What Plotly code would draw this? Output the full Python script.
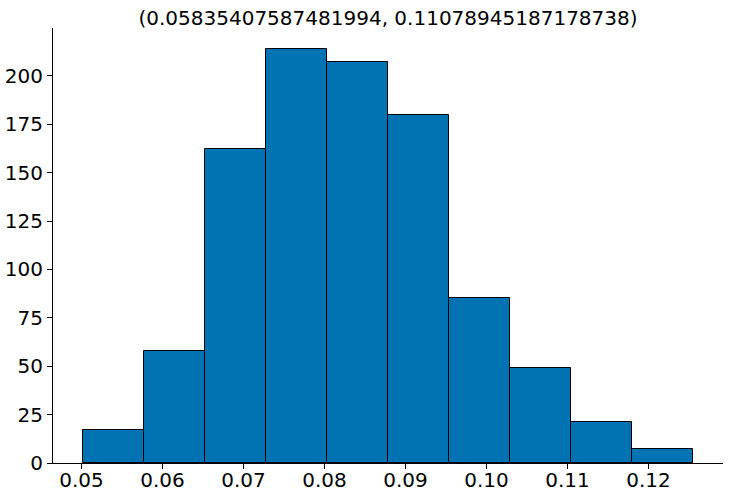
import plotly.graph_objects as go

# Histogram data (bin edges and counts)
bin_edges = [0.05025, 0.057768, 0.065286, 0.072804, 0.080322, 0.08784,
             0.095358, 0.102876, 0.110394, 0.117912, 0.12543]
counts = [17, 58, 162, 214, 207, 180, 85, 49, 21, 7]
title_text = "(0.05835407587481994, 0.11078945187178738)"
x_ticks = [0.05, 0.06, 0.07, 0.08, 0.09, 0.10, 0.11, 0.12]
x_tick_labels = ["0.05", "0.06", "0.07", "0.08", "0.09", "0.10", "0.11", "0.12"]
y_ticks = [0, 25, 50, 75, 100, 125, 150, 175, 200]

centers = [(a + b) / 2 for a, b in zip(bin_edges[:-1], bin_edges[1:])]
widths = [b - a for a, b in zip(bin_edges[:-1], bin_edges[1:])]

span = bin_edges[-1] - bin_edges[0]
x_range = [bin_edges[0] - 0.05 * span, bin_edges[-1] + 0.05 * span]
y_range = [0, max(counts) * 1.05]

fig = go.Figure(go.Bar(
    x=centers, y=counts, width=widths,
    marker=dict(color="#0173B2", line=dict(color="black", width=1)),
))

font = dict(family="DejaVu Sans", size=20, color="black")
fig.update_layout(
    width=729, height=496,
    margin=dict(l=53, r=6, t=28, b=33),
    plot_bgcolor="white", paper_bgcolor="white",
    showlegend=False,
    bargap=0,
    title=dict(text=title_text, x=(53 + 723) / 2 / 729, xanchor="center",
               y=1 - 18 / 496, yanchor="middle", yref="container",
               font=dict(family="DejaVu Sans", size=20, color="black")),
    font=font,
)
fig.update_xaxes(range=x_range, tickvals=x_ticks, ticktext=x_tick_labels,
                 showline=True, linecolor="black", linewidth=1,
                 ticks="outside", ticklen=5, tickwidth=1, tickcolor="black",
                 showgrid=False, zeroline=False, tickfont=font, automargin=False,
                 ticklabelstandoff=-6)
fig.update_yaxes(range=y_range, tickvals=y_ticks,
                 showline=True, linecolor="black", linewidth=1,
                 ticks="outside", ticklen=5, tickwidth=1, tickcolor="black",
                 showgrid=False, zeroline=False, tickfont=font, automargin=False)

fig.write_html("out.html", config={"displayModeBar": False},
               post_script="document.body.style.margin='0';document.body.style.overflow='hidden';")
